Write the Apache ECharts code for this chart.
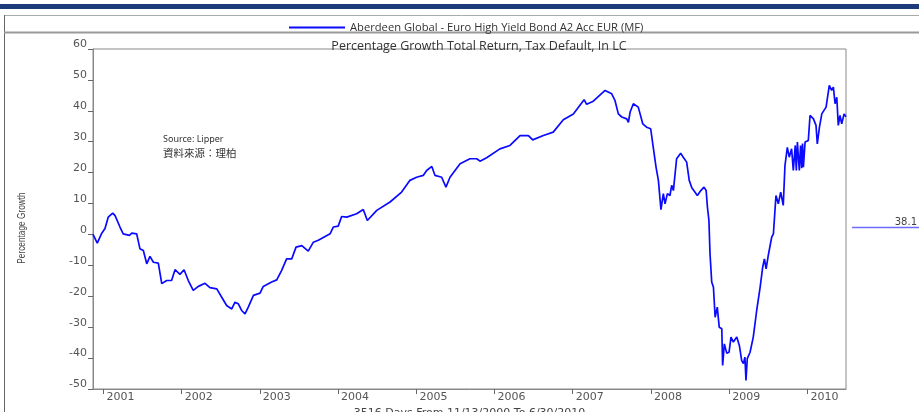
<!DOCTYPE html>
<html>
<head>
<meta charset="utf-8">
<script src="https://cdn.jsdelivr.net/npm/echarts@6/dist/echarts.min.js"></script>
<style>
  html, body { margin: 0; padding: 0; background: #fff; }
  #chart { width: 919px; height: 412px; }
</style>
</head>
<body>
<div id="chart"></div>
<script>
// period covered by the chart
const startDate = Date.UTC(2000, 10, 13);
const endDate = Date.UTC(2010, 5, 30);
const DAY = 86400000;
const totalDays = Math.round((endDate - startDate) / DAY); // 3516

const seriesName = "Aberdeen Global - Euro High Yield Bond A2 Acc EUR (MF)";
const yearLabels = ["2001", "2002", "2003", "2004", "2005", "2006", "2007", "2008", "2009", "2010"];

// days since 11/13/2000
const dayOffsets = [
  0, 20, 41, 56, 71, 92, 103, 126, 141, 170, 181, 204, 219, 235, 251, 266, 282, 305, 321, 344,
  367, 383, 406, 425, 445, 468, 492, 523, 546, 578, 601, 624, 648, 663, 678, 694, 710, 725, 749, 780,
  795, 834, 858, 881, 904, 928, 948, 975, 1005, 1029, 1052, 1107, 1122, 1145, 1161, 1185, 1231, 1262, 1281, 1325,
  1387, 1441, 1480, 1511, 1542, 1558, 1582, 1597, 1628, 1648, 1667, 1714, 1760, 1792, 1807, 1838, 1900, 1947, 1994, 2033,
  2053, 2103, 2149, 2196, 2243, 2293, 2305, 2336, 2391, 2422, 2437, 2453, 2469, 2492, 2500, 2508, 2523, 2546, 2567, 2585,
  2604, 2616, 2629, 2640, 2652, 2663, 2671, 2682, 2694, 2702, 2710, 2725, 2744, 2756, 2772, 2784, 2796, 2822, 2838, 2853,
  2863, 2869, 2876, 2881, 2889, 2897, 2905, 2915, 2924, 2936, 2940, 2948, 2959, 2970, 2979, 2990, 3006, 3018, 3029, 3037,
  3044, 3049, 3055, 3068, 3083, 3099, 3115, 3127, 3135, 3143, 3153, 3169, 3177, 3189, 3200, 3211, 3220, 3223, 3231, 3242,
  3251, 3262, 3270, 3279, 3284, 3289, 3298, 3304, 3309, 3313, 3317, 3325, 3340, 3348, 3364, 3376, 3382, 3392, 3403, 3423,
  3438, 3449, 3457, 3465, 3473, 3480, 3488, 3496, 3507, 3516
];

// percentage growth at those days
const growth = [
  0, -2.8, 0.4, 1.9, 5.6, 6.9, 6.1, 2.4, 0.2, -0.3, 0.4, 0.2, -4.6, -5.2, -9.5, -7.1, -9.0, -9.3, -15.9, -14.9,
  -14.9, -11.4, -12.9, -11.4, -14.9, -18.1, -16.8, -15.8, -17.2, -17.6, -20.3, -23.0, -24.1, -21.9, -22.4, -24.6, -25.7, -23.5, -19.7, -19.0,
  -16.8, -15.4, -14.7, -11.6, -7.9, -7.9, -4.1, -3.6, -5.4, -2.5, -1.9, 0.2, 2.4, 2.7, 5.8, 5.6, 6.7, 8.1, 4.5, 7.8,
  10.5, 13.7, 17.5, 18.5, 19.1, 20.7, 22.0, 19.1, 18.5, 15.3, 18.5, 22.9, 24.5, 24.5, 23.7, 24.8, 27.7, 28.8, 32.0, 32.0,
  30.6, 32.0, 33.1, 37.1, 39.0, 43.6, 42.1, 43.1, 46.6, 45.5, 43.4, 39.0, 38.0, 37.4, 36.3, 39.6, 42.3, 41.2, 35.8, 34.7,
  34.2, 28.2, 21.8, 17.5, 8.0, 13.2, 9.9, 13.2, 12.6, 15.9, 14.2, 24.5, 26.3, 25.0, 23.4, 17.5, 15.1, 12.6, 14.2, 15.3,
  14.2, 8.8, 4.5, -6.2, -15.4, -17.1, -26.8, -23.5, -30.0, -30.5, -42.4, -35.4, -38.4, -38.1, -33.2, -34.8, -33.2, -35.9, -40.8, -41.8,
  -39.7, -47.2, -40.2, -38.1, -33.2, -24.6, -17.1, -10.6, -7.9, -11.1, -6.8, -0.9, 0.2, 12.6, 9.9, 13.7, 13.2, 9.4, 22.3, 28.2,
  25.0, 27.7, 20.7, 28.8, 20.7, 29.9, 20.7, 28.8, 21.4, 29.4, 21.8, 29.9, 30.4, 38.5, 37.4, 35.3, 29.3, 34.7, 39.0, 41.2,
  48.2, 46.6, 47.7, 42.3, 44.4, 35.3, 38.5, 35.8, 39.0, 38.1
];

const yearTicks = yearLabels.map((y) => Math.round((Date.UTC(+y, 0, 1) - startDate) / DAY));
const lastValue = growth[growth.length - 1];

const chart = echarts.init(document.getElementById("chart"));

const axisFont = { fontFamily: "DejaVu Sans", fontSize: 11, color: "#555" };

const option = {
  animation: false,
  title: {
    text: "Percentage Growth Total Return, Tax Default, In LC",
    left: 474,
    top: 35,
    textAlign: "center",
    textStyle: { fontFamily: "Open Sans", fontSize: 12.5, fontWeight: "normal", color: "#333" },
  },
  legend: {
    top: 17,
    left: 284,
    itemWidth: 56,
    itemHeight: 2,
    itemGap: 6,
    icon: "rect",
    textStyle: { fontFamily: "Open Sans", fontSize: 11.2, color: "#333" },
    data: [seriesName],
  },
  grid: {
    left: 93,
    right: 73,
    top: 49,
    bottom: 23,
    outerBoundsMode: "none",
    show: true,
    borderColor: "#888",
    borderWidth: 1,
  },
  xAxis: {
    type: "value",
    min: 0,
    max: totalDays,
    name: "3516 Days From 11/13/2000 To 6/30/2010",
    nameLocation: "middle",
    nameGap: 16,
    nameTextStyle: { fontFamily: "DejaVu Sans", fontSize: 11, color: "#444", verticalAlign: "top" },
    axisLine: { onZero: false, lineStyle: { color: "#888" } },
    axisTick: { customValues: yearTicks, length: 5, lineStyle: { color: "#666" } },
    axisLabel: {
      ...axisFont,
      customValues: yearTicks,
      align: "left",
      margin: 3,
      padding: [0, 0, 0, 3],
      formatter: (v) => yearLabels[yearTicks.indexOf(Math.round(v))] || "",
    },
    splitLine: { show: false },
  },
  yAxis: {
    type: "value",
    min: -50,
    max: 60,
    interval: 10,
    axisLine: { show: true, onZero: false, lineStyle: { color: "#888" } },
    axisTick: { length: 5, lineStyle: { color: "#666" } },
    axisLabel: { ...axisFont, margin: 6, verticalAlign: "bottom", padding: [0, 0, -1, 0] },
    splitLine: { show: false },
  },
  series: [
    {
      name: seriesName,
      type: "line",
      data: dayOffsets.map((d, i) => [d, growth[i]]),
      showSymbol: false,
      color: "#0a0aff",
      lineStyle: { width: 1.7, color: "#0a0aff" },
    },
  ],
  graphic: [
    // top navy band
    { type: "rect", shape: { x: 0, y: 4, width: 919, height: 5 }, style: { fill: "#1b3b7a" } },
    // outer frame and legend separator
    { type: "line", shape: { x1: 4, y1: 15.5, x2: 919, y2: 15.5 }, style: { stroke: "#aaa", lineWidth: 1 } },
    { type: "line", shape: { x1: 4.5, y1: 15, x2: 4.5, y2: 412 }, style: { stroke: "#666", lineWidth: 1 } },
    { type: "line", shape: { x1: 4, y1: 32.5, x2: 919, y2: 32.5 }, style: { stroke: "#999", lineWidth: 2 } },
    // y axis name, condensed like the original
    {
      type: "text",
      x: 22,
      y: 228,
      rotation: Math.PI / 2,
      scaleX: 0.72,
      style: { text: "Percentage Growth", fontFamily: "Liberation Sans", fontSize: 11.5, fill: "#444", align: "center", verticalAlign: "middle" },
    },
    // last value marker on the right
    { type: "line", shape: { x1: 852, y1: 227.5, x2: 919, y2: 227.5 }, style: { stroke: "#6b6bff", lineWidth: 1.5 } },
    {
      type: "text",
      x: 917,
      y: 227,
      style: { text: lastValue.toFixed(1), fontFamily: "DejaVu Sans", fontSize: 10, fill: "#444", align: "right", verticalAlign: "bottom" },
    },
    // source note
    {
      type: "text",
      x: 163,
      y: 135,
      style: { text: "Source: Lipper", fontFamily: "Noto Sans", fontSize: 9, fill: "#333" },
    },
    {
      type: "text",
      x: 163,
      y: 148,
      style: { text: "資料來源：理柏", fontFamily: "Noto Sans CJK TC", fontSize: 10.5, fill: "#333" },
    },
  ],
};

chart.setOption(option);
</script>
</body>
</html>
